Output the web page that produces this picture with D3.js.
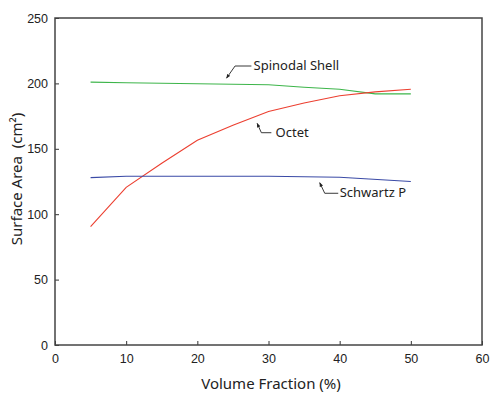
<!DOCTYPE html>
<html lang="en">
<head>
  <meta charset="UTF-8">
  <title>Surface Area vs Volume Fraction</title>
  <script src="https://d3js.org/d3.v7.min.js"></script>
  <style>
    body {
      margin: 0;
      background: #fff;
      font-family: 'Noto Sans', sans-serif;
    }
    .tick text {
      font-size: 12.5px;
      fill: #222;
    }
    .axis-label {
      font-size: 15px;
      fill: #222;
    }
    .note {
      font-size: 13px;
      fill: #222;
    }
  </style>
</head>
<body>

<div class="chart"></div>

<script>
    const xTicks = [0, 10, 20, 30, 40, 50, 60];
    const yTicks = [0, 50, 100, 150, 200, 250];

    const spinodalX = [5, 10, 20, 30, 35, 40, 45, 50];
    const spinodalY = [201, 200.5, 199.7, 199, 197, 195.5, 192, 192];

    const octetX = [5, 10, 15, 20, 25, 30, 35, 40, 45, 50];
    const octetY = [90.5, 120.5, 139, 156.5, 168, 178.5, 185, 190.5, 193.5, 195.5];

    const schwartzX = [5, 10, 20, 30, 40, 50];
    const schwartzY = [128, 129, 129, 129, 128.2, 125];

    // labels with leader arrows: [tip, elbow, end] in data units, text anchor
    const notes = [
      { text: 'Spinodal Shell', path: [[24.1, 204], [25.3, 213.3], [27.6, 213.3]], at: [27.9, 210.2] },
      { text: 'Octet', path: [[28.4, 169.5], [29.0, 162.3], [30.4, 162.3]], at: [31.0, 159] },
      { text: 'Schwartz P', path: [[37.2, 124.1], [37.9, 116], [39.8, 116]], at: [40.0, 113] }
    ];

    const margin = { top: 18, right: 11, bottom: 64, left: 55 };
    const width = 493 - margin.left - margin.right;
    const height = 409 - margin.top - margin.bottom;

    const x = d3.scaleLinear().domain([0, 60]).range([0, width]);
    const y = d3.scaleLinear().domain([0, 250]).range([height, 0]);

    const svg = d3.select('.chart')
      .append('svg')
      .attr('width', 493)
      .attr('height', 409)
      .append('g')
      .attr('transform', 'translate(' + margin.left + ',' + margin.top + ')');

    svg.append('defs').append('marker')
      .attr('id', 'arrow')
      .attr('viewBox', '0 0 10 10')
      .attr('refX', 9).attr('refY', 5)
      .attr('markerWidth', 5).attr('markerHeight', 5)
      .attr('orient', 'auto-start-reverse')
      .append('path')
      .attr('d', 'M0,1 L10,5 L0,9 Z')
      .attr('fill', '#222');

    // x axis, ticks pointing in
    svg.append('g')
      .attr('transform', 'translate(0,' + height + ')')
      .call(d3.axisBottom(x).tickValues(xTicks).tickSize(-4).tickPadding(9).tickSizeOuter(0))
      .call(g => g.select('.domain').remove())
      .call(g => g.selectAll('.tick line').attr('stroke', '#333'));

    svg.append('g')
      .call(d3.axisLeft(y).tickValues(yTicks).tickSize(-4).tickPadding(7).tickSizeOuter(0))
      .call(g => g.select('.domain').remove())
      .call(g => g.selectAll('.tick line').attr('stroke', '#333'));

    // frame
    svg.append('rect')
      .attr('width', width)
      .attr('height', height)
      .attr('fill', 'none')
      .attr('stroke', '#444')
      .attr('stroke-width', 1.5);

    const line = d3.line().x(d => x(d[0])).y(d => y(d[1]));

    const series = [
      { xs: spinodalX, ys: spinodalY, color: '#3db54a' },
      { xs: octetX, ys: octetY, color: '#ec3f30' },
      { xs: schwartzX, ys: schwartzY, color: '#3a4aa6' }
    ];

    series.forEach(s => {
      svg.append('path')
        .datum(s.xs.map((v, i) => [v, s.ys[i]]))
        .attr('fill', 'none')
        .attr('stroke', s.color)
        .attr('stroke-width', 1.1)
        .attr('d', line);
    });

    notes.forEach(n => {
      svg.append('path')
        .datum(n.path)
        .attr('fill', 'none')
        .attr('stroke', '#222')
        .attr('stroke-width', 0.9)
        .attr('marker-start', 'url(#arrow)')
        .attr('d', line);
      svg.append('text')
        .attr('class', 'note')
        .attr('x', x(n.at[0]))
        .attr('y', y(n.at[1]))
        .text(n.text);
    });

    svg.append('text')
      .attr('class', 'axis-label')
      .attr('text-anchor', 'middle')
      .attr('x', 271 - margin.left)
      .attr('y', 389 - margin.top)
      .text('Volume Fraction (%)');

    svg.append('text')
      .attr('class', 'axis-label')
      .attr('text-anchor', 'middle')
      .attr('transform', 'rotate(-90)')
      .attr('x', -(179 - margin.top))
      .attr('y', 22 - margin.left)
      .text('Surface Area  (cm²)')
      .style('white-space', 'pre');
</script>
</body>
</html>
